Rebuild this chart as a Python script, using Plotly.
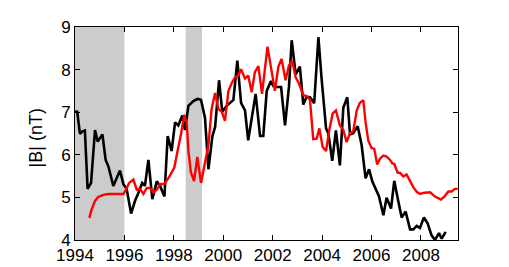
import plotly.graph_objects as go

# Black series (observed |B|)
black_year = [1994.00, 1994.09, 1994.20, 1994.30, 1994.40, 1994.51, 1994.65, 1994.81, 1994.92, 1995.00,
              1995.11, 1995.24, 1995.35, 1995.55, 1995.82, 1995.96, 1996.09, 1996.27, 1996.43, 1996.56,
              1996.72, 1996.83, 1996.97, 1997.13, 1997.31, 1997.44, 1997.62, 1997.75, 1997.91, 1998.05,
              1998.18, 1998.34, 1998.45, 1998.59, 1998.79, 1998.96, 1999.10, 1999.26, 1999.40, 1999.56,
              1999.67, 1999.83, 1999.96, 2000.14, 2000.41, 2000.57, 2000.72, 2000.88, 2001.01, 2001.31,
              2001.49, 2001.62, 2001.76, 2001.93, 2002.03, 2002.16, 2002.34, 2002.50, 2002.66, 2002.77,
              2002.93, 2003.10, 2003.24, 2003.37, 2003.51, 2003.68, 2003.85, 2003.98, 2004.16, 2004.25,
              2004.41, 2004.56, 2004.72, 2004.86, 2005.02, 2005.13, 2005.26, 2005.44, 2005.60, 2005.76,
              2005.90, 2006.03, 2006.21, 2006.30, 2006.48, 2006.61, 2006.79, 2006.92, 2007.08, 2007.22,
              2007.38, 2007.56, 2007.69, 2007.83, 2007.96, 2008.12, 2008.27, 2008.43, 2008.57, 2008.73,
              2008.84, 2009.00]
black_b = [7.01, 7.01, 6.49, 6.55, 6.57, 5.20, 5.34, 6.58, 6.31, 6.37,
           6.48, 5.88, 5.73, 5.27, 5.63, 5.31, 5.20, 4.62, 4.92, 5.10,
           5.34, 5.27, 5.88, 4.96, 5.38, 5.27, 5.02, 6.44, 6.09, 6.76,
           6.69, 6.92, 6.58, 7.15, 7.26, 7.31, 7.29, 6.87, 5.66, 6.44,
           6.65, 7.75, 7.01, 7.15, 7.29, 8.21, 7.22, 7.04, 6.34, 7.43,
           6.44, 6.44, 7.50, 7.73, 7.61, 7.59, 7.59, 6.69, 7.60, 8.69,
           7.89, 8.07, 7.18, 7.36, 7.35, 7.21, 8.76, 7.79, 6.62, 6.51,
           5.86, 6.57, 5.75, 7.11, 7.35, 6.48, 6.51, 6.67, 6.23, 5.45,
           5.66, 5.38, 5.13, 5.03, 4.58, 4.99, 4.74, 5.39, 4.92, 4.53,
           4.67, 4.25, 4.25, 4.33, 4.28, 4.53, 4.39, 4.11, 4.00, 4.16,
           4.03, 4.19]

# Red series (model |B|)
red_year = [1994.58, 1994.67, 1994.81, 1994.94, 1995.15, 1995.35, 1995.62, 1995.96, 1996.05, 1996.19,
            1996.36, 1996.50, 1996.63, 1996.77, 1996.90, 1997.04, 1997.17, 1997.31, 1997.44, 1997.62,
            1997.78, 1997.91, 1998.02, 1998.15, 1998.29, 1998.42, 1998.52, 1998.59, 1998.69, 1998.82,
            1998.95, 1999.10, 1999.26, 1999.40, 1999.53, 1999.67, 1999.80, 1999.94, 2000.07, 2000.21,
            2000.34, 2000.48, 2000.61, 2000.72, 2000.88, 2001.01, 2001.15, 2001.28, 2001.42, 2001.57,
            2001.79, 2002.09, 2002.23, 2002.36, 2002.52, 2002.66, 2002.79, 2002.93, 2003.06, 2003.24,
            2003.37, 2003.51, 2003.64, 2003.78, 2003.89, 2004.02, 2004.16, 2004.29, 2004.43, 2004.56,
            2004.72, 2004.86, 2004.99, 2005.13, 2005.26, 2005.40, 2005.53, 2005.67, 2005.76, 2005.87,
            2006.00, 2006.11, 2006.23, 2006.34, 2006.48, 2006.61, 2006.75, 2006.84, 2006.92, 2007.06,
            2007.15, 2007.29, 2007.42, 2007.56, 2007.69, 2007.83, 2007.96, 2008.14, 2008.37, 2008.57,
            2008.81, 2008.95, 2009.11, 2009.24, 2009.38, 2009.49]
red_b = [4.52, 4.71, 4.92, 5.01, 5.06, 5.08, 5.08, 5.08, 5.17, 5.34,
         5.42, 5.18, 5.20, 5.08, 5.22, 5.22, 5.12, 5.18, 5.31, 5.32,
         5.45, 5.59, 5.70, 6.09, 6.48, 6.94, 6.76, 6.09, 5.59, 5.38,
         5.95, 5.34, 5.80, 6.23, 7.08, 7.45, 7.08, 7.01, 6.80, 7.50,
         7.68, 7.82, 7.86, 8.01, 7.79, 7.86, 7.47, 7.94, 8.08, 7.43,
         8.54, 7.50, 8.07, 8.25, 7.75, 8.10, 8.21, 7.82, 7.68, 7.40,
         7.38, 7.29, 6.37, 6.38, 6.62, 6.19, 6.09, 6.58, 6.97, 7.04,
         6.69, 6.58, 6.30, 6.51, 6.55, 7.04, 7.22, 7.28, 6.76, 6.33,
         6.16, 6.14, 5.77, 5.91, 5.98, 5.96, 5.88, 5.80, 5.79, 5.58,
         5.58, 5.49, 5.54, 5.38, 5.24, 5.13, 5.08, 5.11, 5.12, 5.02,
         4.95, 5.02, 5.14, 5.14, 5.20, 5.20]

# Shaded intervals (years)
shade_start = [1994.0, 1998.48]
shade_end = [1996.0, 1999.14]

x_ticks = [1994, 1996, 1998, 2000, 2002, 2004, 2006, 2008]
y_ticks = [4, 5, 6, 7, 8, 9]

fig = go.Figure()
for s, e in zip(shade_start, shade_end):
    fig.add_vrect(x0=s, x1=e, fillcolor="#cccccc", opacity=1, line_width=0, layer="below")

fig.add_trace(go.Scatter(x=black_year, y=black_b, mode="lines",
                         line=dict(color="black", width=2.6), showlegend=False))
fig.add_trace(go.Scatter(x=red_year, y=red_b, mode="lines",
                         line=dict(color="#ff0000", width=2.4), showlegend=False))

axis_common = dict(showline=True, linecolor="black", linewidth=1, mirror="ticks",
                   ticks="inside", ticklen=5, tickcolor="black", showgrid=False,
                   zeroline=False, tickfont=dict(family="Liberation Sans, Arial", size=17, color="black"))

fig.update_xaxes(range=[1994, 2009.5], tickvals=x_ticks, ticktext=[str(v) for v in x_ticks], **axis_common)
fig.update_yaxes(range=[4, 9], tickvals=y_ticks, ticktext=[str(v) for v in y_ticks], **axis_common)

fig.add_annotation(text="|B| (nT)", xref="paper", yref="paper", x=0, y=0.477,
                   xshift=-39, textangle=-90, showarrow=False, xanchor="center", yanchor="middle",
                   font=dict(family="Liberation Sans, Arial", size=18, color="black"))

fig.update_layout(width=509, height=267, margin=dict(l=67, r=59, t=10, b=22),
                  paper_bgcolor="white", plot_bgcolor="white")

fig.write_html("out.html")
